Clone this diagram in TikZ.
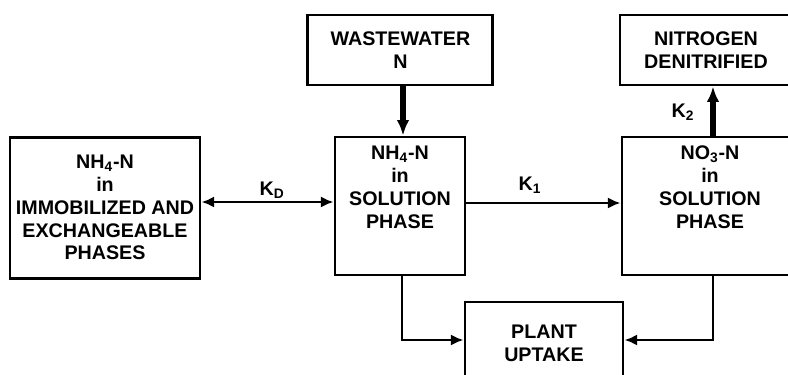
\documentclass[tikz,border=0pt]{standalone}
\usepackage{fontspec}
\setmainfont{Liberation Sans}
\usetikzlibrary{arrows.meta,positioning}
\begin{document}
\begin{tikzpicture}[
	font=\fontsize{14}{16.2}\selectfont\bfseries,
	box/.style={draw, line width=2.1pt, align=center, inner sep=0pt},
	flow/.style={line width=1.9pt, -{Latex[length=9pt,width=8pt]}},
	bothflow/.style={line width=1.9pt, {Latex[length=9pt,width=8pt]}-{Latex[length=9pt,width=8pt]}},
	bigflow/.style={line width=3.6pt, -{Latex[length=11pt,width=9pt]}},
	txt/.style={align=center, inner sep=0pt}
]
	\path[use as bounding box, clip] (0,0) rectangle (19.7,9.35);

	% boxes
	\node[box, minimum width=4.75cm, minimum height=3.525cm] (immob) at (2.625,4.16) {NH\textsubscript{4}-N\\in\\IMMOBILIZED AND\\EXCHANGEABLE\\PHASES};
	\node[box, minimum width=3.25cm, minimum height=3.45cm] (nhsol) at (10.0,4.2) {};
	\node[txt, below=0.26cm of nhsol.north] (nhtext) {NH\textsubscript{4}-N\\in\\SOLUTION\\PHASE};
	\node[box, minimum width=4.625cm, minimum height=1.75cm] (waste) at (10.01,8.1) {WASTEWATER\\N};
	\node[box, minimum width=4.3cm, minimum height=1.75cm] (nitro) at (17.65,8.1) {NITROGEN\\DENITRIFIED};
	\node[box, minimum width=4.4cm, minimum height=3.45cm] (nosol) at (17.75,4.2) {};
	\node[txt, below=0.26cm of nosol.north] (notext) {NO\textsubscript{3}-N\\in\\SOLUTION\\PHASE};
	\node[box, minimum width=3.95cm, minimum height=2.05cm] (plant) at (13.6,0.775) {PLANT\\UPTAKE};

	% exchange and nitrification
	\draw[bothflow] (immob.east |- 0,4.3) -- (nhsol.west |- 0,4.3);
	\node (kd) at (6.8,4.6) {K\textsubscript{D}};
	\draw[flow] (nhsol.east |- 0,4.275) -- (nosol.west |- 0,4.275);
	\node (kone) at (13.25,4.725) {K\textsubscript{1}};

	% inputs and losses
	\draw[bigflow] (waste.south -| 10.075,0) -- (nhsol.north -| 10.075,0);
	\draw[bigflow] (nosol.north -| 17.825,0) -- (nitro.south -| 17.825,0);
	\node (ktwo) at (17.075,6.55) {K\textsubscript{2}};

	% plant uptake
	\draw[flow] (nhsol.south -| 10.05,0) |- (plant.west |- 0,0.85);
	\draw[flow] (nosol.south -| 17.825,0) |- (plant.east |- 0,0.85);
\end{tikzpicture}
\end{document}
